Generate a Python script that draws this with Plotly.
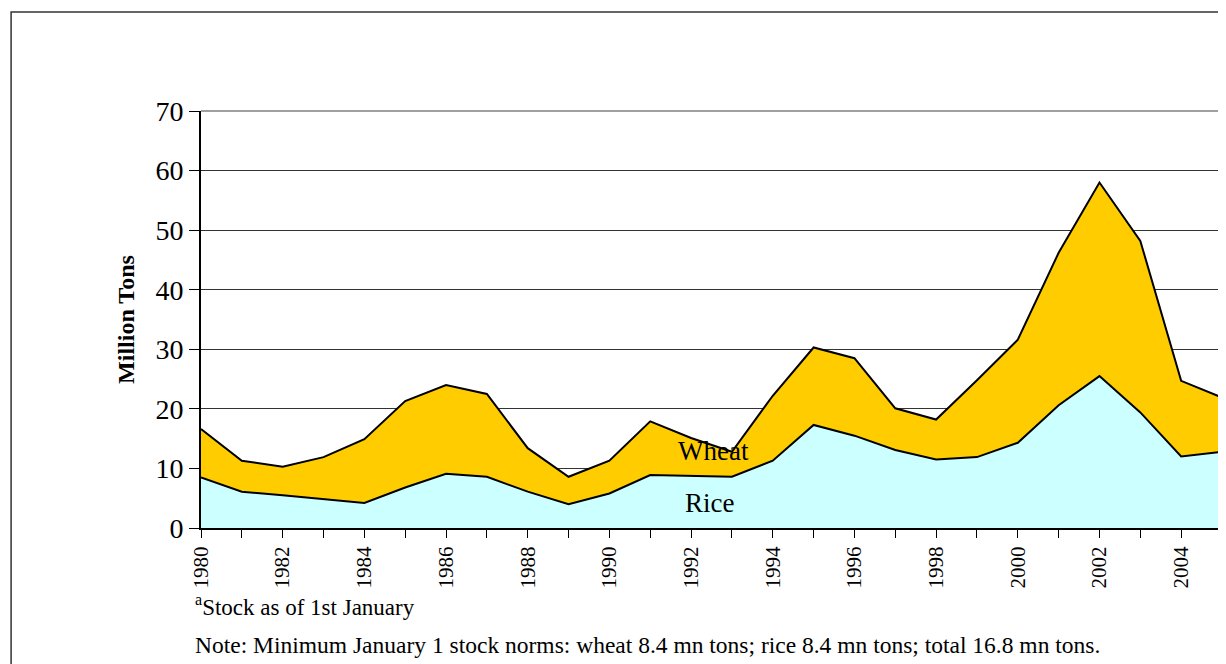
import plotly.graph_objects as go

years = list(range(1980, 2006))
rice = [8.5, 6.1, 5.5, 4.9, 4.2, 6.8, 9.1, 8.6, 6.1, 4.0, 5.8, 8.9, 8.7,
        8.6, 11.3, 17.3, 15.5, 13.1, 11.5, 11.9, 14.3, 20.6, 25.5, 19.4, 12.0, 12.8]
wheat = [8.1, 5.2, 4.8, 7.0, 10.7, 14.5, 14.9, 13.9, 7.3, 4.6, 5.5, 9.0, 6.4,
         4.2, 10.9, 13.0, 13.0, 7.0, 6.7, 12.9, 17.3, 25.6, 32.5, 28.8, 12.7, 9.1]
serif = "Liberation Serif"

fig = go.Figure()
fig.add_trace(go.Scatter(x=years, y=rice, name="Rice", mode="lines", stackgroup="s",
                         line=dict(color="black", width=2), fillcolor="#CCFFFF"))
fig.add_trace(go.Scatter(x=years, y=wheat, name="Wheat", mode="lines", stackgroup="s",
                         line=dict(color="black", width=2), fillcolor="#FFCC00"))

fig.add_annotation(x=1992.56, y=12.9, text="Wheat", showarrow=False,
                   font=dict(family=serif, size=27, color="black"))
fig.add_annotation(x=1992.46, y=4.2, text="Rice", showarrow=False,
                   font=dict(family=serif, size=27, color="black"))
fig.add_annotation(x=-0.008, y=-0.226, xref="paper", yref="paper", xanchor="left",
                   text="<sup>a</sup>Stock as of 1st January", showarrow=False,
                   font=dict(family=serif, size=23, color="black"))
fig.add_annotation(x=-0.008, y=-0.317, xref="paper", yref="paper", xanchor="left",
                   text="Note: Minimum January 1 stock norms: wheat 8.4 mn tons; rice 8.4 mn tons; total 16.8 mn tons.",
                   showarrow=False, font=dict(family=serif, size=23.5, color="black"))

# outer frame and grey plot-area edge
fig.add_shape(type="rect", xref="paper", yref="paper", x0=-0.186, x1=1.02, y0=-0.4, y1=1.2374,
              line=dict(color="#333333", width=1.5), layer="below")
fig.add_shape(type="line", xref="paper", yref="paper", x0=1, x1=1, y0=0, y1=1,
              line=dict(color="#808080", width=1.5), layer="above")
fig.add_shape(type="line", xref="paper", yref="paper", x0=0, x1=1, y0=1, y1=1,
              line=dict(color="#808080", width=1.5), layer="above")

# page body adds an 8px margin, so the figure is 8px smaller
fig.update_layout(
    width=1218, height=656,
    margin=dict(l=193, r=4, t=103, b=136),
    paper_bgcolor="white", plot_bgcolor="white",
    showlegend=False,
    font=dict(family=serif, color="black"),
)
fig.update_xaxes(range=[1980, 2005], tick0=1980, dtick=2,
                 tickangle=-90, tickfont=dict(family=serif, size=21),
                 ticks="outside", ticklen=8, tickcolor="black",
                 minor=dict(dtick=1, tick0=1980, ticks="outside", ticklen=8, tickcolor="black",
                            showgrid=False),
                 showline=True, linecolor="black", linewidth=2, showgrid=False, zeroline=False)
fig.update_yaxes(range=[0, 70], dtick=10, tickfont=dict(family=serif, size=28),
                 ticks="outside", ticklen=10, tickcolor="black",
                 showline=True, linecolor="black", linewidth=2,
                 showgrid=True, gridcolor="#333333", gridwidth=1, zeroline=False,
                 title=dict(text="<b>Million Tons</b>", font=dict(family=serif, size=24), standoff=14))

fig.write_html("out.html")
